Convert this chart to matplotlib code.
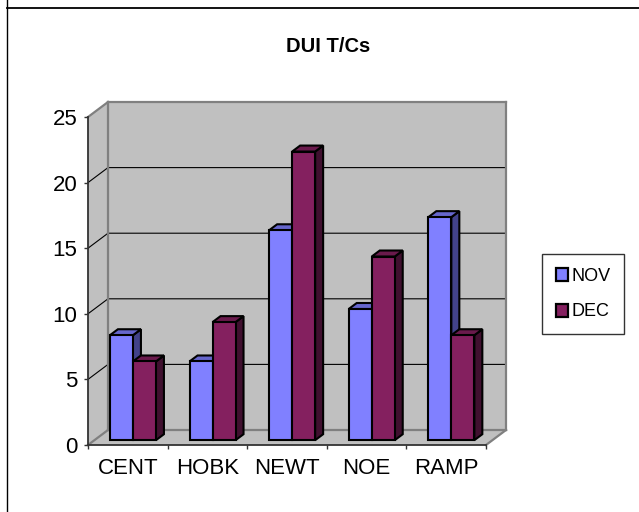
import matplotlib
matplotlib.use('Agg')
import matplotlib.pyplot as plt
from matplotlib.patches import Polygon, Patch
from matplotlib.lines import Line2D

categories = ['CENT', 'HOBK', 'NEWT', 'NOE', 'RAMP']
series_names = ['NOV', 'DEC']
nov = [8, 6, 16, 10, 17]
dec = [6, 9, 22, 14, 8]
y_ticks = [0, 5, 10, 15, 20, 25]
title = 'DUI T/Cs'

front_colors = ['#8080FF', '#84205F']
top_colors = ['#6666CC', '#6A1A4C']
side_colors = ['#42428A', '#40102F']

plt.rcParams['font.family'] = ['Liberation Sans', 'DejaVu Sans']
W, H = 639, 512
fig = plt.figure(figsize=(W / 100, H / 100), dpi=100)
fig.patch.set_facecolor('white')

ax = fig.add_axes([88 / W, 1 - 445 / H, 398 / W, 328 / H])
n = len(categories)
ymax = y_ticks[-1]
ax.set_xlim(0, n)
ax.set_ylim(0, ymax)
ax.patch.set_visible(False)

DX, DY = 0.2513, 1.143  # depth offset in data units
wall = '#C0C0C0'
edge = '#808080'

# walls and floor
ax.add_patch(Polygon([(0, 0), (0, ymax), (DX, ymax + DY), (DX, DY)], closed=True,
                     fc=wall, ec='none', clip_on=False, zorder=0))
ax.add_patch(Polygon([(DX, DY), (DX, ymax + DY), (n + DX, ymax + DY), (n + DX, DY)], closed=True,
                     fc=wall, ec='none', clip_on=False, zorder=0))
ax.add_patch(Polygon([(0, 0), (n, 0), (n + DX, DY), (DX, DY)], closed=True,
                     fc=wall, ec='none', clip_on=False, zorder=0))

# gridlines
for t in y_ticks[1:-1]:
    ax.plot([0, DX, n + DX], [t, t + DY, t + DY], color='black', lw=0.8,
            clip_on=False, zorder=1)

# wall edges
edge_segments = [
    ([0, DX], [ymax, ymax + DY]),
    ([DX, n + DX], [ymax + DY, ymax + DY]),
    ([n + DX, n + DX], [ymax + DY, DY]),
    ([n + DX, n], [DY, 0]),
    ([DX, n + DX], [DY, DY]),
    ([DX, DX], [DY, ymax + DY]),
    ([0, DX], [0, DY]),
]
for xs, ys in edge_segments:
    ax.plot(xs, ys, color=edge, lw=1.6, clip_on=False, zorder=1.5,
            solid_capstyle='projecting')

# bars
bar_w = 0.289
start = 0.195
f, b = 0.32, 0.72
series = [nov, dec]
z = 3
for i in range(n):
    for s, vals in enumerate(series):
        v = vals[i]
        x0 = i + start + s * bar_w
        x1 = x0 + bar_w
        side = [(x1 + f * DX, f * DY), (x1 + b * DX, b * DY),
                (x1 + b * DX, v + b * DY), (x1 + f * DX, v + f * DY)]
        top = [(x0 + f * DX, v + f * DY), (x1 + f * DX, v + f * DY),
               (x1 + b * DX, v + b * DY), (x0 + b * DX, v + b * DY)]
        front = [(x0 + f * DX, f * DY), (x1 + f * DX, f * DY),
                 (x1 + f * DX, v + f * DY), (x0 + f * DX, v + f * DY)]
        for poly, col in ((side, side_colors[s]), (top, top_colors[s]), (front, front_colors[s])):
            ax.add_patch(Polygon(poly, closed=True, fc=col, ec='black', lw=1.5,
                                 joinstyle='miter', clip_on=False, zorder=z))
        z += 0.01

# axes
for sp in ('top', 'right'):
    ax.spines[sp].set_visible(False)
for sp in ('left', 'bottom'):
    ax.spines[sp].set_color('#333333')
    ax.spines[sp].set_linewidth(1.3)
    ax.spines[sp].set_zorder(2)
ax.set_yticks(y_ticks)
ax.set_yticklabels([str(t) for t in y_ticks])
ax.tick_params(axis='y', direction='out', length=3, width=1, color='#333333',
               labelsize=16, pad=4.5)
ax.set_xticks(range(n + 1))
ax.set_xticklabels([''] * (n + 1))
ax.set_xticks([i + 0.5 for i in range(n)], minor=True)
ax.set_xticklabels(categories, minor=True)
ax.tick_params(axis='x', which='major', direction='out', length=3, width=1, color='#333333')
ax.tick_params(axis='x', which='minor', length=0, labelsize=16, pad=9.5)

# title
fig.text(328 / W, 1 - 47 / H, title, ha='center', va='center', fontsize=14.5,
         fontweight='bold')

# legend
handles = [Patch(fc=front_colors[k], ec='black', lw=1.6, label=series_names[k])
           for k in range(2)]
leg = fig.legend(handles=handles, loc='upper left', bbox_to_anchor=(542 / W, 1 - 254 / H),
                 fontsize=13, frameon=True, fancybox=False, edgecolor='black',
                 handlelength=0.7, handleheight=0.7, handletextpad=0.2,
                 labelspacing=1.05, borderpad=0.75, borderaxespad=0)
leg.get_frame().set_linewidth(1)

# chart border (partial, cropped)
fig.add_artist(Line2D([6.5 / W, 6.5 / W], [0, 1], transform=fig.transFigure,
                      color='black', lw=1))
fig.add_artist(Line2D([6.5 / W, 1], [1 - 7.5 / H, 1 - 7.5 / H], transform=fig.transFigure,
                      color='black', lw=1.3))

fig.savefig('out.png', dpi=100, facecolor='white')
